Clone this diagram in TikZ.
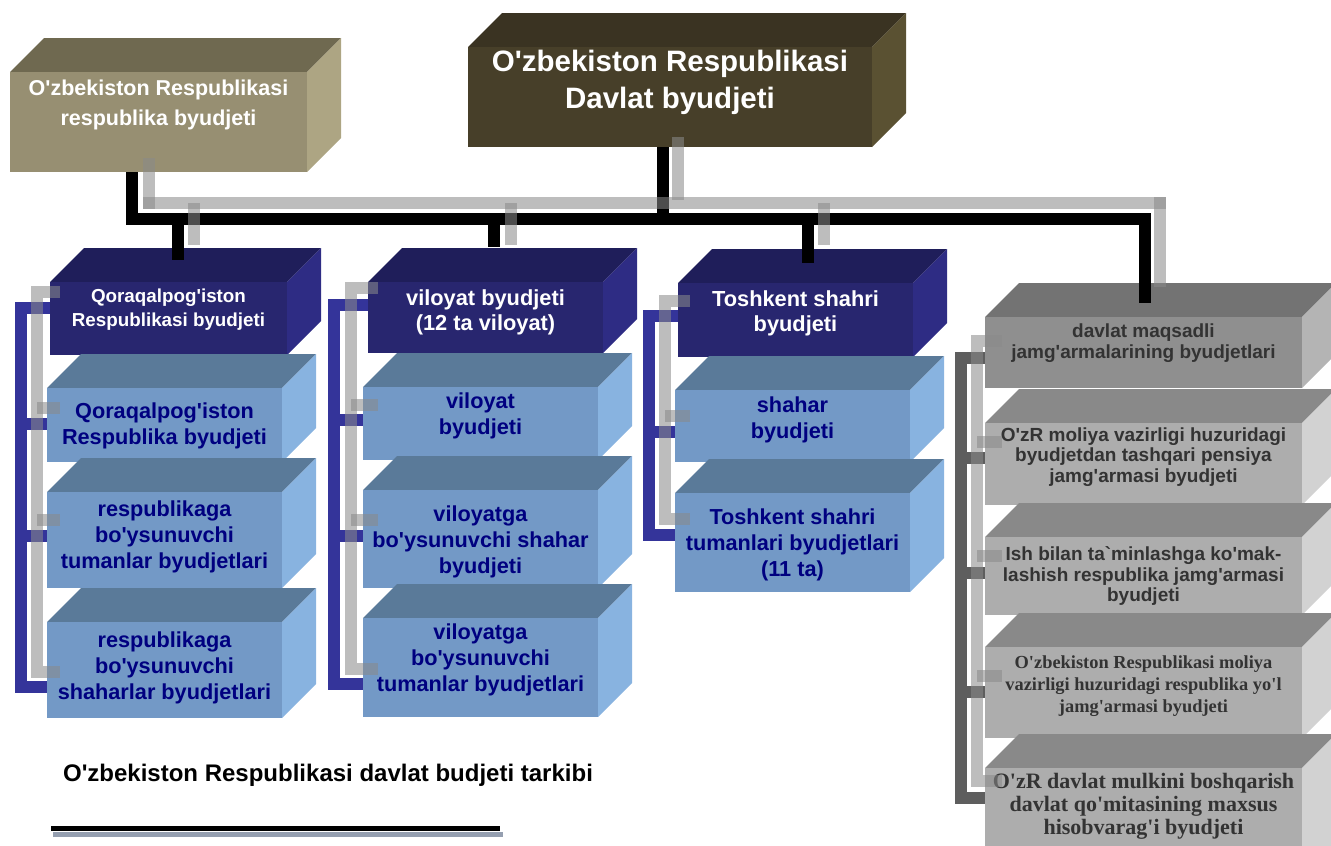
\documentclass[tikz,border=0pt]{standalone}
\usepackage{fontspec}
\setmainfont{Liberation Sans}[Ligatures=TeXOff]
\newfontfamily\serifb{Liberation Serif}[Ligatures=TeXOff]
\usetikzlibrary{calc}
\definecolor{olF}{HTML}{978F72}\definecolor{olT}{HTML}{6F6950}\definecolor{olS}{HTML}{ADA583}
\definecolor{odF}{HTML}{473F29}\definecolor{odT}{HTML}{3A3322}\definecolor{odS}{HTML}{5A5132}
\definecolor{dbF}{HTML}{28266F}\definecolor{dbT}{HTML}{1F1E5A}\definecolor{dbS}{HTML}{2E2C84}
\definecolor{lbF}{HTML}{7399C6}\definecolor{lbT}{HTML}{5A7A99}\definecolor{lbS}{HTML}{88B3E0}
\definecolor{gaF}{HTML}{8F8F8F}\definecolor{gaT}{HTML}{737373}\definecolor{gaS}{HTML}{B4B4B4}
\definecolor{gbF}{HTML}{ADADAD}\definecolor{gbT}{HTML}{898989}\definecolor{gbS}{HTML}{D2D2D2}
\definecolor{txtnavy}{HTML}{000080}
\definecolor{txtgray}{HTML}{333333}
\definecolor{brblue}{HTML}{34349A}
\definecolor{brgray}{HTML}{5E5E5E}
\definecolor{shgray}{HTML}{8A8A8A}
\definecolor{ulshadow}{HTML}{959FB0}
\newcommand\bxd{34}
% #1 name, #2 x1, #3 y1, #4 x2, #5 y2, #6 colour prefix, #7 text style, #8 text centre y, #9 text
\newcommand\cube[9]{%
  \fill[#6T] (#2,#3) -- ({#2+\bxd},{#3-\bxd}) -- ({#4+\bxd},{#3-\bxd}) -- (#4,#3) -- cycle;
  \fill[#6S] (#4,#3) -- ({#4+\bxd},{#3-\bxd}) -- ({#4+\bxd},{#5-\bxd}) -- (#4,#5) -- cycle;
  \node[fill=#6F, anchor=north west, minimum width={#4-#2}, minimum height={#5-#3}, inner sep=0pt, outer sep=0pt] (#1) at (#2,#3) {};
  \node[#7] (#1t) at ({(#2+#4)/2},#8) {#9};
}
\tikzset{
  t0/.style={inner sep=0pt, align=center},
  tl/.style={t0, text=white, font=\bfseries\fontsize{21.5}{30}\selectfont},
  tc/.style={t0, text=white, font=\bfseries\fontsize{29.5}{37}\selectfont},
  wa/.style={t0, text=white, font=\bfseries\fontsize{18.8}{24}\selectfont},
  wb/.style={t0, text=white, font=\bfseries\fontsize{21.8}{25}\selectfont},
  nv/.style={t0, text=txtnavy, font=\bfseries\fontsize{21.7}{26}\selectfont},
  gs/.style={t0, text=txtgray, font=\bfseries\fontsize{19}{20.5}\selectfont},
  gr/.style={t0, text=txtgray, font=\serifb\bfseries\fontsize{18.4}{22}\selectfont},
  grb/.style={t0, text=txtgray, font=\serifb\bfseries\fontsize{22}{23}\selectfont},
  ttl/.style={t0, text=black, font=\bfseries\fontsize{24}{28}\selectfont},
  blk/.style={line width=12pt, black, line join=miter},
  shd/.style={line width=12pt, shgray, opacity=0.56},
  brb/.style={line width=12pt, brblue, line join=miter},
  brg/.style={line width=12pt, brgray, line join=miter},
}
\begin{document}
\begin{tikzpicture}[x=1pt,y=-1pt]
\useasboundingbox (0,0) rectangle (1331,846);
\clip (0,0) rectangle (1331,846);
% ---------- boxes ----------
\cube{rb}{10}{72}{307}{172}{ol}{tl}{105}{O'zbekiston Respublikasi\\respublika byudjeti}
\cube{root}{468}{47}{872}{147}{od}{tc}{82}{O'zbekiston Respublikasi\\Davlat byudjeti}
% column 1
\cube{c1a}{50}{282}{287}{355}{db}{wa}{310}{Qoraqalpog'iston\\Respublikasi byudjeti}
\cube{c1b}{47}{388}{282}{462}{lb}{nv}{426}{Qoraqalpog'iston\\Respublika byudjeti}
\cube{c1c}{47}{492}{282}{588}{lb}{nv}{537}{respublikaga\\bo'ysunuvchi\\tumanlar byudjetlari}
\cube{c1d}{47}{622}{282}{718}{lb}{nv}{668}{respublikaga\\bo'ysunuvchi\\shaharlar byudjetlari}
% column 2
\cube{c2a}{368}{282}{603}{353}{db}{wb}{312}{viloyat byudjeti\\(12 ta viloyat)}
\cube{c2b}{363}{387}{598}{460}{lb}{nv}{416}{viloyat\\byudjeti}
\cube{c2c}{363}{490}{598}{588}{lb}{nv}{542}{viloyatga\\bo'ysunuvchi shahar\\byudjeti}
\cube{c2d}{363}{618}{598}{717}{lb}{nv}{660}{viloyatga\\bo'ysunuvchi\\tumanlar byudjetlari}
% column 3
\cube{c3a}{678}{283}{913}{357}{db}{wb}{313}{Toshkent shahri\\byudjeti}
\cube{c3b}{675}{390}{910}{462}{lb}{nv}{420}{shahar\\byudjeti}
\cube{c3c}{675}{493}{910}{592}{lb}{nv}{545}{Toshkent shahri\\tumanlari byudjetlari\\(11 ta)}
% column 4
\cube{c4a}{985}{317}{1302}{388}{ga}{gs}{343}{davlat maqsadli\\jamg'armalarining byudjetlari}
\cube{c4b}{985}{423}{1302}{505}{gb}{gs}{457}{O'zR moliya vazirligi huzuridagi\\byudjetdan tashqari pensiya\\jamg'armasi byudjeti}
\cube{c4c}{985}{537}{1302}{615}{gb}{gs}{576}{Ish bilan ta`minlashga ko'mak-\\lashish respublika jamg'armasi\\byudjeti}
\cube{c4d}{985}{647}{1302}{738}{gb}{gr}{686}{O'zbekiston Respublikasi moliya\\vazirligi huzuridagi respublika yo'l\\jamg'armasi byudjeti}
\cube{c4e}{985}{768}{1302}{880}{gb}{grb}{806}{O'zR davlat mulkini boshqarish\\davlat qo'mitasining maxsus\\hisobvarag'i byudjeti}
% ---------- title ----------
\node[ttl] (title) at (328,775) {O'zbekiston Respublikasi davlat budjeti tarkibi};
\coordinate (ulA) at (53,834); \coordinate (ulB) at (503,834);
\coordinate (ulC) at (51,828); \coordinate (ulD) at (500,828);
\draw[line width=5pt, ulshadow] (ulA) -- (ulB);
\draw[line width=5pt, black] (ulC) -- (ulD);
% ---------- black tree ----------
\coordinate (bL) at (132,219);
\coordinate (bR) at (1145,219);
\coordinate (bC) at (663,219);
\coordinate (d1) at (178,219); \coordinate (d1e) at (178,260);
\coordinate (d2) at (494,219); \coordinate (d2e) at (494,247);
\coordinate (d3) at (808,219); \coordinate (d3e) at (808,263);
\coordinate (d4e) at (1145,303);
\draw[blk] (rb.south -| bL) -- (bL) -- (bR) -- (d4e);
\draw[blk] (root.south -| bC) -- (bC);
\draw[blk] (d1) -- (d1e);
\draw[blk] (d2) -- (d2e);
\draw[blk] (d3) -- (d3e);
% ---------- brackets ----------
% column 1
\coordinate (k1t) at (21,308); \coordinate (k1b) at (21,687);
\draw[brb] (c1a.west |- k1t) -- (k1t) -- (k1b) -- (c1d.west |- k1b);
\coordinate (k1m) at (21,424); \coordinate (k1n) at (21,536);
\draw[brb] (k1m) -- (c1b.west |- k1m);
\draw[brb] (k1n) -- (c1c.west |- k1n);
% column 2
\coordinate (k2t) at (334,305); \coordinate (k2b) at (334,684);
\draw[brb] (c2a.west |- k2t) -- (k2t) -- (k2b) -- (c2d.west |- k2b);
\coordinate (k2m) at (334,420); \coordinate (k2n) at (334,536);
\draw[brb] (k2m) -- (c2b.west |- k2m);
\draw[brb] (k2n) -- (c2c.west |- k2n);
% column 3
\coordinate (k3t) at (649,316); \coordinate (k3b) at (649,535);
\draw[brb] (c3a.west |- k3t) -- (k3t) -- (k3b) -- (c3c.west |- k3b);
\coordinate (k3m) at (649,432);
\draw[brb] (k3m) -- (c3b.west |- k3m);
% column 4
\coordinate (k4t) at (961,358); \coordinate (k4b) at (961,798);
\draw[brg] (c4a.west |- k4t) -- (k4t) -- (k4b) -- (c4e.west |- k4b);
\coordinate (k4m) at (961,458); \coordinate (k4n) at (961,573); \coordinate (k4o) at (961,692);
\draw[brg] (k4m) -- (c4b.west |- k4m);
\draw[brg] (k4n) -- (c4c.west |- k4n);
\draw[brg] (k4o) -- (c4d.west |- k4o);
% ---------- grey shadows ----------
\coordinate (s0a) at (149,158); \coordinate (s0b) at (149,209);
\coordinate (sL) at (143,203); \coordinate (sR) at (1166,203);
\coordinate (s4a) at (1160,197); \coordinate (s4b) at (1160,287);
\coordinate (sCa) at (678,137); \coordinate (sCb) at (678,200);
\coordinate (s1a) at (194,203); \coordinate (s1b) at (194,245);
\coordinate (s2a) at (511,203); \coordinate (s2b) at (511,245);
\coordinate (s3a) at (824,203); \coordinate (s3b) at (824,245);
\draw[shd] (s0a) -- (s0b);
\draw[shd] (sL) -- (sR);
\draw[shd] (s4a) -- (s4b);
\draw[shd] (sCa) -- (sCb);
\draw[shd] (s1a) -- (s1b);
\draw[shd] (s2a) -- (s2b);
\draw[shd] (s3a) -- (s3b);
% column 1 shadow bracket
\coordinate (g1t) at (37,292); \coordinate (g1b) at (37,672);
\coordinate (g1tE) at (60,292); \coordinate (g1bE) at (60,672);
\draw[shd] (g1tE) -- (g1t) -- (g1b) -- (g1bE);
\coordinate (g1m) at (37,408); \coordinate (g1mE) at (60,408);
\coordinate (g1n) at (37,520); \coordinate (g1nE) at (60,520);
\draw[shd] (g1m) -- (g1mE);
\draw[shd] (g1n) -- (g1nE);
% column 2 shadow bracket
\coordinate (g2t) at (351,288); \coordinate (g2b) at (351,669);
\coordinate (g2tE) at (378,288); \coordinate (g2bE) at (378,669);
\draw[shd] (g2tE) -- (g2t) -- (g2b) -- (g2bE);
\coordinate (g2m) at (351,405); \coordinate (g2mE) at (378,405);
\coordinate (g2n) at (351,520); \coordinate (g2nE) at (378,520);
\draw[shd] (g2m) -- (g2mE);
\draw[shd] (g2n) -- (g2nE);
% column 3 shadow bracket
\coordinate (g3t) at (665,301); \coordinate (g3b) at (665,519);
\coordinate (g3tE) at (690,301); \coordinate (g3bE) at (690,519);
\draw[shd] (g3tE) -- (g3t) -- (g3b) -- (g3bE);
\coordinate (g3m) at (665,416); \coordinate (g3mE) at (690,416);
\draw[shd] (g3m) -- (g3mE);
% column 4 shadow bracket
\coordinate (g4t) at (977,341); \coordinate (g4b) at (977,781);
\coordinate (g4tE) at (1002,341); \coordinate (g4bE) at (1002,781);
\draw[shd] (g4tE) -- (g4t) -- (g4b) -- (g4bE);
\coordinate (g4m) at (977,442); \coordinate (g4mE) at (1002,442);
\coordinate (g4n) at (977,556); \coordinate (g4nE) at (1002,556);
\coordinate (g4o) at (977,676); \coordinate (g4oE) at (1002,676);
\draw[shd] (g4m) -- (g4mE);
\draw[shd] (g4n) -- (g4nE);
\draw[shd] (g4o) -- (g4oE);
\end{tikzpicture}
\end{document}
